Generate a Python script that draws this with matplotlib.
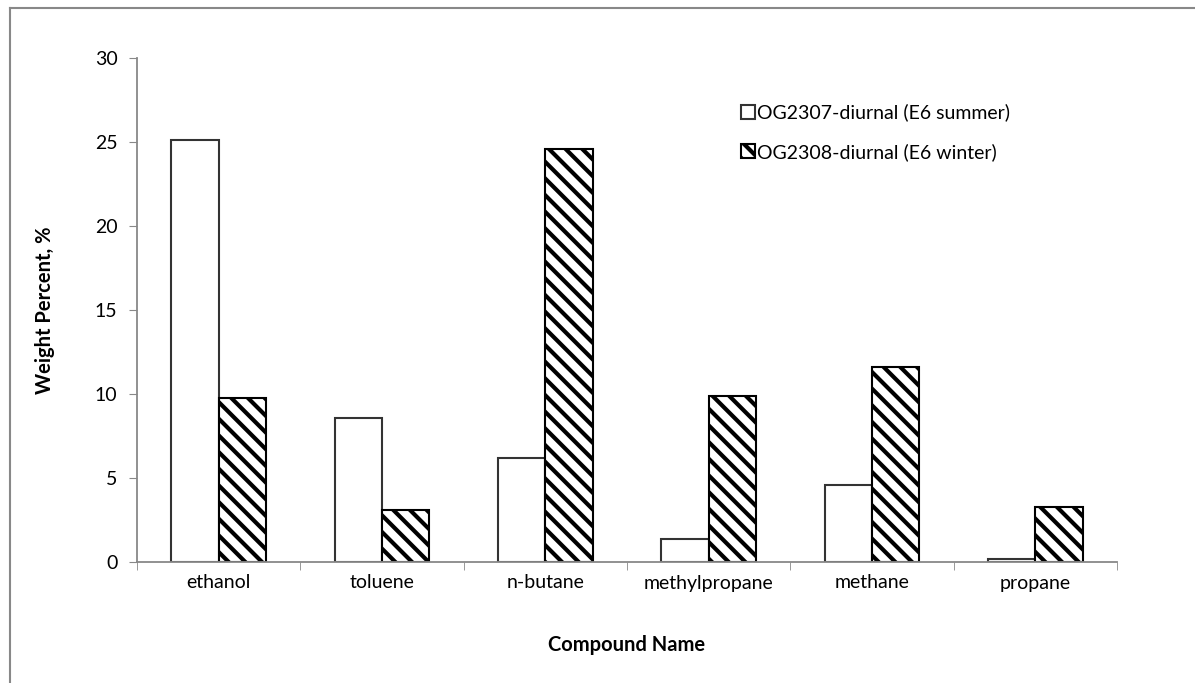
import matplotlib
matplotlib.use("Agg")
import matplotlib.pyplot as plt
import numpy as np
from matplotlib.lines import Line2D

categories = ["ethanol", "toluene", "n-butane", "methylpropane", "methane", "propane"]
summer = [25.1, 8.6, 6.2, 1.35, 4.6, 0.2]
winter = [9.75, 3.1, 24.6, 9.9, 11.6, 3.3]
series_names = ["OG2307-diurnal (E6 summer)", "OG2308-diurnal (E6 winter)"]
yticks = [0, 5, 10, 15, 20, 25, 30]

plt.rcParams['font.family'] = ['Lato', 'DejaVu Sans']
plt.rcParams['hatch.linewidth'] = 3.0

fig = plt.figure(figsize=(11.95, 6.83), dpi=100)
ax = fig.add_axes([137/1195, 1-562/683, (1117-137)/1195, (562-58)/683])

x = np.arange(len(categories))
w = 0.29
b1 = ax.bar(x - w/2, summer, w, color='white', edgecolor='#333333', linewidth=1.5,
            label=series_names[0])
b2 = ax.bar(x + w/2, winter, w, color='white', edgecolor='black', hatch='\\\\',
            linewidth=1.5, label=series_names[1])

ax.set_xlim(-0.5, len(categories) - 0.5)
ax.set_ylim(0, 30)
ax.set_yticks(yticks)
ax.set_yticklabels([str(t) for t in yticks], fontsize=14)
ax.set_xticks(x)
ax.set_xticklabels(categories, fontsize=14)
ax.set_xticks(np.arange(-0.5, len(categories) + 0.5, 1), minor=True)
ax.tick_params(axis='x', which='major', length=0, pad=9)
ax.tick_params(axis='x', which='minor', length=6, color='#888888', direction='out')
ax.tick_params(axis='y', length=6, color='#888888', direction='out', pad=8)
for s in ['top', 'right']:
    ax.spines[s].set_visible(False)
for s in ['left', 'bottom']:
    ax.spines[s].set_color('#888888')
    ax.spines[s].set_linewidth(1.3)

ax.set_ylabel("Weight Percent, %", fontsize=14.5, fontweight='bold', labelpad=29)
ax.set_xlabel("Compound Name", fontsize=14.5, fontweight='bold', labelpad=31)

leg = ax.legend(loc='upper left', bbox_to_anchor=(731/1195, 1-94/683),
                bbox_transform=fig.transFigure, frameon=False, fontsize=14,
                handlelength=0.75, handleheight=0.75, handletextpad=0.1,
                labelspacing=1.1, borderpad=0)

# figure border (top and left only visible)
fig.add_artist(Line2D([10/1195, 1.0], [1-8/683, 1-8/683], transform=fig.transFigure,
                      color='#888888', linewidth=1.5))
fig.add_artist(Line2D([10/1195, 10/1195], [0, 1-8/683], transform=fig.transFigure,
                      color='#888888', linewidth=1.5))

fig.savefig("out.png", dpi=100)
